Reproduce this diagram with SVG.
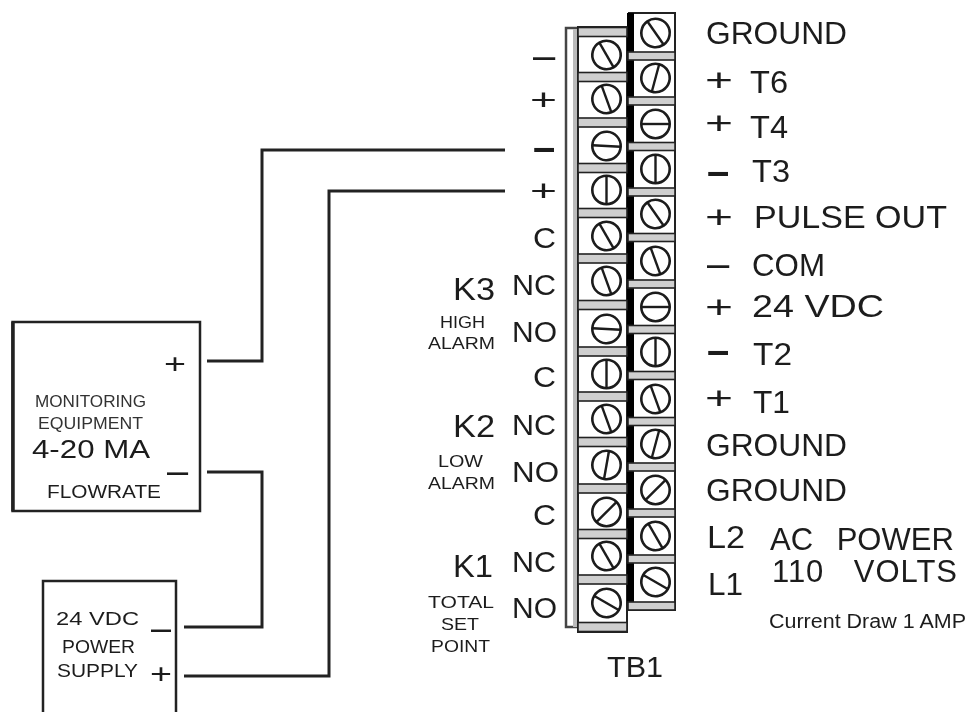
<svg xmlns="http://www.w3.org/2000/svg" xmlns:xlink="http://www.w3.org/1999/xlink" width="967" height="712" viewBox="0 0 967 712">
<style>
text{font-family:"Liberation Sans",Arial,sans-serif;fill:#1c1c1c}
.l{font-size:31px}.s{font-size:17px;fill:#333}.m{font-size:29px}
.wire{fill:none;stroke:#222;stroke-width:3}
.box{fill:#fff;stroke:#222;stroke-width:2.5}
.scr circle{fill:#fff;stroke:#1a1a1a;stroke-width:2.6}
.scr line{stroke:#1a1a1a;stroke-width:2.4}
.d{fill:#cfcfcf;stroke:#222;stroke-width:1.6}
.f{fill:#fff;stroke:#222;stroke-width:2}
</style>
<defs>
<filter id="soft" x="-2%" y="-2%" width="104%" height="104%"><feGaussianBlur stdDeviation="0.6"/></filter>
<g id="screw" class="scr"><circle r="14.2"/><line x1="-14" x2="14"/></g>
<rect id="dl" class="d" x="578" y="-4.5" width="49" height="9"/>
<rect id="dr" class="d" x="628" y="-4" width="47" height="8"/>
</defs>
<rect width="967" height="712" fill="#fff"/>
<g filter="url(#soft)">
<g id="connectors">
<path class="wire" d="M207 361H262V150H505"/>
<path class="wire" d="M207 472H262V627H184"/>
<path class="wire" d="M184 676H329V191H505"/>
</g>
<g id="monitoring-equipment">
<rect class="box" x="12.500" y="322" width="187.500" height="189"/>
<line x1="13" y1="322" x2="13" y2="511" stroke="#222" stroke-width="3.500"/>
<text x="164" y="373" font-size="28" textLength="22" lengthAdjust="spacingAndGlyphs">+</text>
<text x="167" y="484" font-size="38">–</text>
<text class="s" x="35" y="407" textLength="111" lengthAdjust="spacingAndGlyphs">MONITORING</text>
<text class="s" x="38" y="429" textLength="105" lengthAdjust="spacingAndGlyphs">EQUIPMENT</text>
<text x="32" y="458" font-size="25" textLength="118" lengthAdjust="spacingAndGlyphs">4-20 MA</text>
<text x="47" y="498" font-size="18" textLength="114" lengthAdjust="spacingAndGlyphs">FLOWRATE</text>
</g>
<g id="power-supply">
<path class="box" d="M43 712V581H176V712"/>
<text x="56" y="625" font-size="18" textLength="83" lengthAdjust="spacingAndGlyphs">24 VDC</text>
<text x="62" y="653" font-size="18" textLength="73" lengthAdjust="spacingAndGlyphs">POWER</text>
<text x="57" y="677" font-size="18" textLength="81" lengthAdjust="spacingAndGlyphs">SUPPLY</text>
<text x="151" y="640" font-size="36">–</text>
<text x="150" y="683" font-size="28" textLength="22" lengthAdjust="spacingAndGlyphs">+</text>
</g>
<g id="tb1">
<path d="M578 28H566V627H578" fill="#fff" stroke="#444" stroke-width="2.500"/>
<rect x="573" y="29" width="5" height="598" fill="#bbb"/>
<rect class="f" x="578" y="27" width="49" height="605"/>
<rect class="f" x="629" y="13" width="46" height="597"/>
<rect x="627" y="13" width="7" height="590" fill="#000"/>
<use xlink:href="#dl" href="#dl" y="32"/>
<use xlink:href="#dl" href="#dl" y="77"/>
<use xlink:href="#dl" href="#dl" y="122.500"/>
<use xlink:href="#dl" href="#dl" y="168"/>
<use xlink:href="#dl" href="#dl" y="213"/>
<use xlink:href="#dl" href="#dl" y="258.500"/>
<use xlink:href="#dl" href="#dl" y="305"/>
<use xlink:href="#dl" href="#dl" y="351.500"/>
<use xlink:href="#dl" href="#dl" y="396.500"/>
<use xlink:href="#dl" href="#dl" y="442"/>
<use xlink:href="#dl" href="#dl" y="488.500"/>
<use xlink:href="#dl" href="#dl" y="534"/>
<use xlink:href="#dl" href="#dl" y="579.500"/>
<use xlink:href="#dl" href="#dl" y="627"/>
<use xlink:href="#dr" href="#dr" y="56"/>
<use xlink:href="#dr" href="#dr" y="101"/>
<use xlink:href="#dr" href="#dr" y="146.500"/>
<use xlink:href="#dr" href="#dr" y="192"/>
<use xlink:href="#dr" href="#dr" y="237.500"/>
<use xlink:href="#dr" href="#dr" y="284"/>
<use xlink:href="#dr" href="#dr" y="329.500"/>
<use xlink:href="#dr" href="#dr" y="375.500"/>
<use xlink:href="#dr" href="#dr" y="421.500"/>
<use xlink:href="#dr" href="#dr" y="467"/>
<use xlink:href="#dr" href="#dr" y="513"/>
<use xlink:href="#dr" href="#dr" y="559"/>
<use xlink:href="#dr" href="#dr" y="606"/>
<use href="#screw" transform="translate(606.500 55) rotate(60)"/>
<use href="#screw" transform="translate(606.500 99) rotate(70)"/>
<use href="#screw" transform="translate(606.500 146) rotate(3)"/>
<use href="#screw" transform="translate(606.500 190) rotate(90)"/>
<use href="#screw" transform="translate(606.500 236) rotate(60)"/>
<use href="#screw" transform="translate(606.500 281) rotate(70)"/>
<use href="#screw" transform="translate(606.500 329) rotate(3)"/>
<use href="#screw" transform="translate(606.500 374) rotate(90)"/>
<use href="#screw" transform="translate(606.500 419) rotate(70)"/>
<use href="#screw" transform="translate(606.500 465) rotate(-80)"/>
<use href="#screw" transform="translate(606.500 512) rotate(-45)"/>
<use href="#screw" transform="translate(606.500 556) rotate(60)"/>
<use href="#screw" transform="translate(606.500 603) rotate(30)"/>
<use href="#screw" transform="translate(655.500 33) rotate(55)"/>
<use href="#screw" transform="translate(655.500 78) rotate(-75)"/>
<use href="#screw" transform="translate(655.500 124) rotate(0)"/>
<use href="#screw" transform="translate(655.500 169) rotate(90)"/>
<use href="#screw" transform="translate(655.500 214) rotate(55)"/>
<use href="#screw" transform="translate(655.500 261) rotate(70)"/>
<use href="#screw" transform="translate(655.500 307) rotate(0)"/>
<use href="#screw" transform="translate(655.500 352) rotate(90)"/>
<use href="#screw" transform="translate(655.500 399) rotate(70)"/>
<use href="#screw" transform="translate(655.500 444) rotate(-75)"/>
<use href="#screw" transform="translate(655.500 490) rotate(-45)"/>
<use href="#screw" transform="translate(655.500 536) rotate(60)"/>
<use href="#screw" transform="translate(655.500 582) rotate(30)"/>
<text x="607" y="677" font-size="29" textLength="56" lengthAdjust="spacingAndGlyphs">TB1</text>
</g>
<g id="left-labels">
<text x="533" y="69" font-size="40">–</text>
<text x="530" y="110" font-size="30" textLength="27" lengthAdjust="spacingAndGlyphs">+</text>
<text x="533" y="161" font-size="40" font-weight="bold">–</text>
<text x="530" y="201" font-size="30" textLength="27" lengthAdjust="spacingAndGlyphs">+</text>
<text class="m" x="533" y="248" textLength="23" lengthAdjust="spacingAndGlyphs">C</text>
<text class="m" x="512" y="295" textLength="44" lengthAdjust="spacingAndGlyphs">NC</text>
<text class="l" x="453" y="300" textLength="42" lengthAdjust="spacingAndGlyphs">K3</text>
<text x="440" y="328" font-size="16" fill="#333" textLength="45" lengthAdjust="spacingAndGlyphs">HIGH</text>
<text x="428" y="349" font-size="17" textLength="67" lengthAdjust="spacingAndGlyphs">ALARM</text>
<text class="m" x="512" y="342" textLength="45" lengthAdjust="spacingAndGlyphs">NO</text>
<text class="m" x="533" y="387" textLength="23" lengthAdjust="spacingAndGlyphs">C</text>
<text class="m" x="512" y="435" textLength="44" lengthAdjust="spacingAndGlyphs">NC</text>
<text class="l" x="453" y="437" textLength="42" lengthAdjust="spacingAndGlyphs">K2</text>
<text x="438" y="467" font-size="16" textLength="45" lengthAdjust="spacingAndGlyphs">LOW</text>
<text x="428" y="489" font-size="17" textLength="67" lengthAdjust="spacingAndGlyphs">ALARM</text>
<text class="m" x="512" y="482" textLength="47" lengthAdjust="spacingAndGlyphs">NO</text>
<text class="m" x="533" y="525" textLength="23" lengthAdjust="spacingAndGlyphs">C</text>
<text class="m" x="512" y="572" textLength="44" lengthAdjust="spacingAndGlyphs">NC</text>
<text class="l" x="453" y="577" textLength="40" lengthAdjust="spacingAndGlyphs">K1</text>
<text x="428" y="608" font-size="17" textLength="66" lengthAdjust="spacingAndGlyphs">TOTAL</text>
<text x="441" y="630" font-size="17" textLength="38" lengthAdjust="spacingAndGlyphs">SET</text>
<text x="431" y="652" font-size="17" textLength="59" lengthAdjust="spacingAndGlyphs">POINT</text>
<text class="m" x="512" y="618" textLength="45" lengthAdjust="spacingAndGlyphs">NO</text>
</g>
<g id="right-labels">
<text class="l" x="706" y="44" textLength="141" lengthAdjust="spacingAndGlyphs">GROUND</text>
<text x="705" y="91" font-size="32" textLength="28" lengthAdjust="spacingAndGlyphs">+</text>
<text class="l" x="750" y="93" textLength="38" lengthAdjust="spacingAndGlyphs">T6</text>
<text x="705" y="134" font-size="32" textLength="28" lengthAdjust="spacingAndGlyphs">+</text>
<text class="l" x="750" y="138" textLength="38" lengthAdjust="spacingAndGlyphs">T4</text>
<text x="707" y="185" font-size="40" font-weight="bold">–</text>
<text class="l" x="752" y="182" textLength="38" lengthAdjust="spacingAndGlyphs">T3</text>
<text x="705" y="228" font-size="32" textLength="28" lengthAdjust="spacingAndGlyphs">+</text>
<text class="l" x="754" y="228" textLength="193" lengthAdjust="spacingAndGlyphs">PULSE OUT</text>
<text x="707" y="277" font-size="40">–</text>
<text class="l" x="752" y="276" textLength="73" lengthAdjust="spacingAndGlyphs">COM</text>
<text x="705" y="318" font-size="32" textLength="28" lengthAdjust="spacingAndGlyphs">+</text>
<text class="l" x="752" y="317" textLength="132" lengthAdjust="spacingAndGlyphs">24 VDC</text>
<text x="707" y="364" font-size="40" font-weight="bold">–</text>
<text class="l" x="753" y="365" textLength="39" lengthAdjust="spacingAndGlyphs">T2</text>
<text x="705" y="409" font-size="32" textLength="28" lengthAdjust="spacingAndGlyphs">+</text>
<text class="l" x="753" y="413" textLength="37" lengthAdjust="spacingAndGlyphs">T1</text>
<text class="l" x="706" y="456" textLength="141" lengthAdjust="spacingAndGlyphs">GROUND</text>
<text class="l" x="706" y="501" textLength="141" lengthAdjust="spacingAndGlyphs">GROUND</text>
<text class="l" x="707" y="548" textLength="38" lengthAdjust="spacingAndGlyphs">L2</text>
<text class="l" x="708" y="595" textLength="35" lengthAdjust="spacingAndGlyphs">L1</text>
<text x="770" y="550" font-size="31" word-spacing="15">AC POWER</text>
<text x="772" y="582" font-size="31" word-spacing="20" textLength="185">110 VOLTS</text>
<text x="769" y="628" font-size="20" textLength="197" lengthAdjust="spacingAndGlyphs">Current Draw 1 AMP</text>
</g>
</g>
</svg>
